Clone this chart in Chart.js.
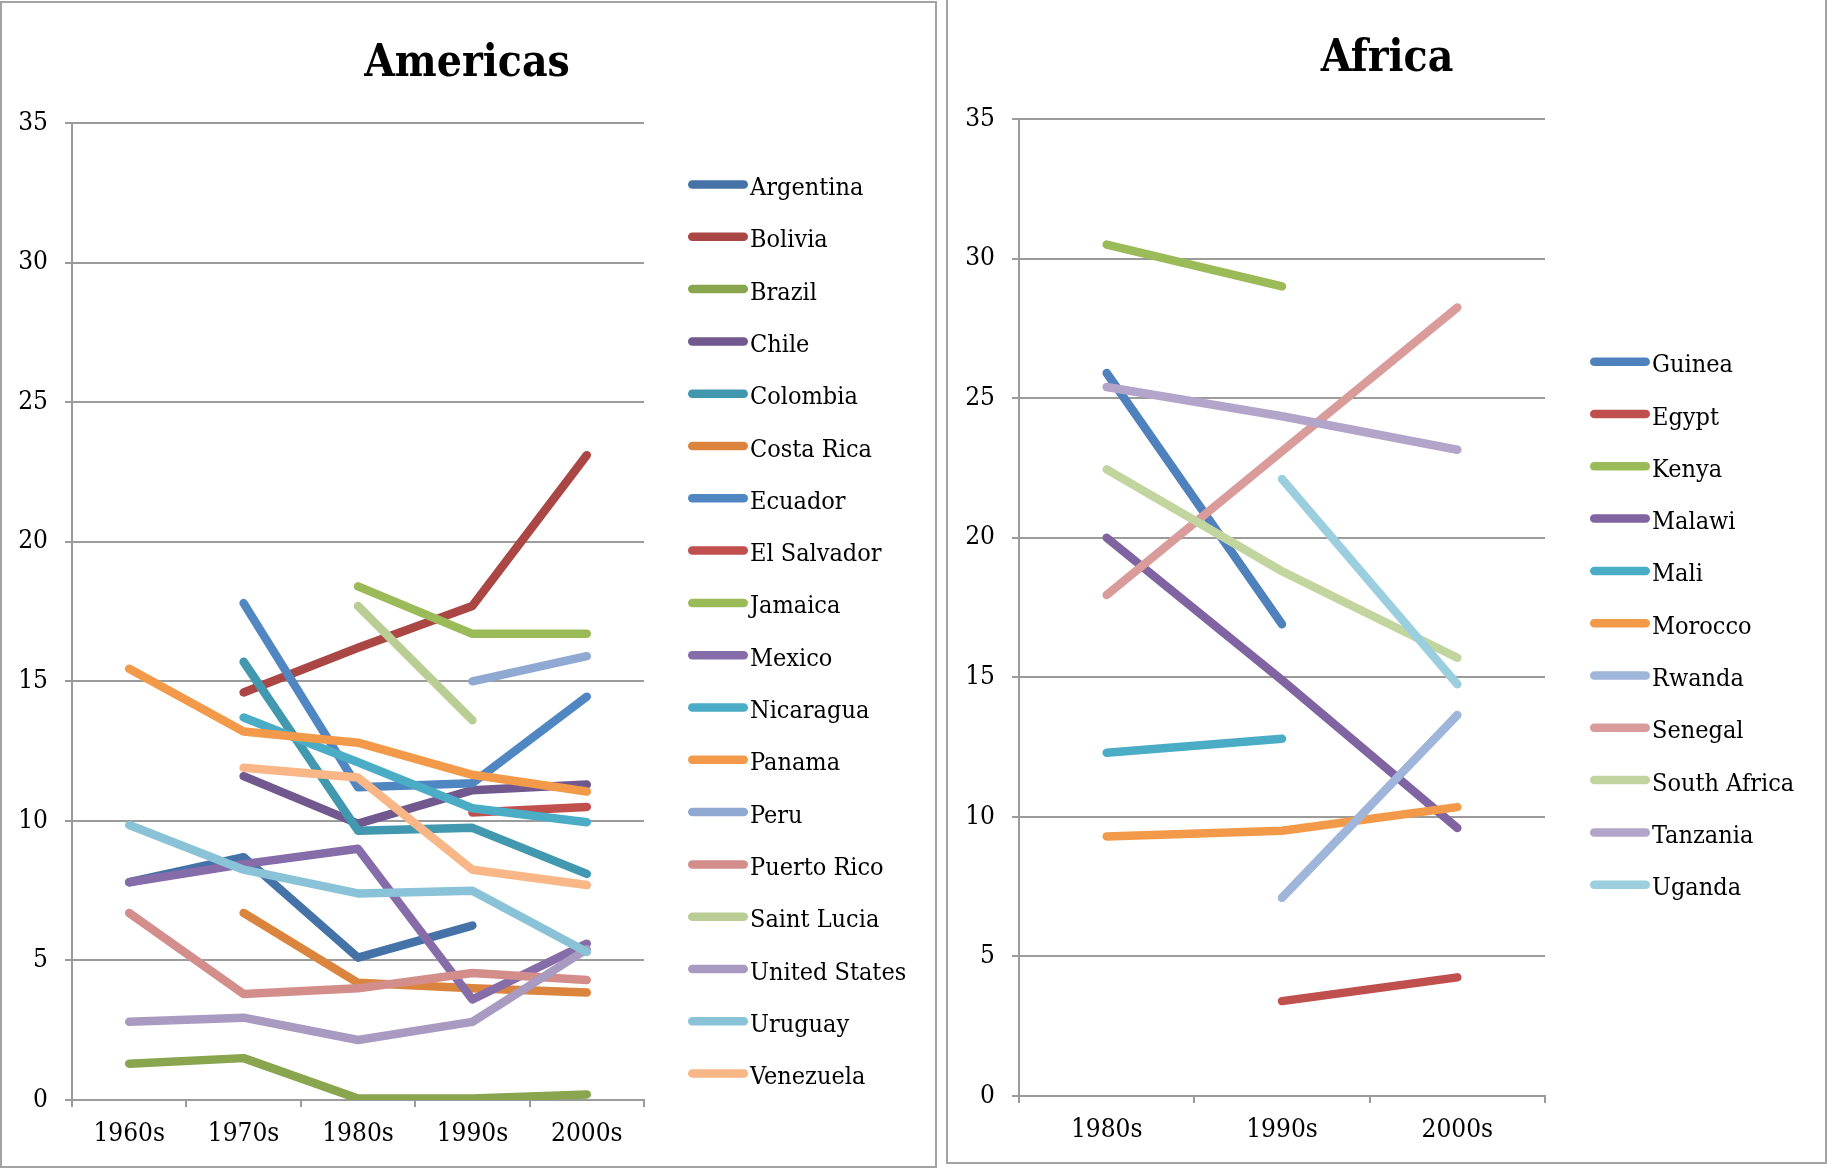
<!DOCTYPE html>
<html>
<head>
<meta charset="utf-8">
<title>Americas and Africa by decade</title>
<script src="https://cdn.jsdelivr.net/npm/chart.js@4.4.0/dist/chart.umd.min.js"></script>
<style>
  html, body { margin: 0; padding: 0; background: #fff; }
  body { width: 1827px; height: 1169px; position: relative; overflow: hidden; }
  .frame { position: absolute; box-sizing: border-box; border: 2px solid #a3a3a3; }
  #frameAm { left: 0; top: 1px; width: 937px; height: 1167px; }
  #frameAf { left: 946px; top: -10px; width: 881px; height: 1174px; }
  canvas { position: absolute; top: 0; }
  #americas { left: 0; }
  #africa { left: 946px; }
</style>
</head>
<body>
<div class="frame" id="frameAm"></div>
<div class="frame" id="frameAf"></div>
<canvas id="americas" width="937" height="1169"></canvas>
<canvas id="africa" width="881" height="1169"></canvas>
<script>
// ---- Americas ----
const americasDecades = ['1960s', '1970s', '1980s', '1990s', '2000s'];
const argentina    = [7.8, 8.7, 5.1, 6.25, null];
const bolivia      = [null, 14.6, 16.2, 17.7, 23.1];
const brazil       = [1.3, 1.5, 0.05, 0.05, 0.2];
const chile        = [null, 11.6, 9.9, 11.1, 11.3];
const colombia     = [null, 15.7, 9.65, 9.75, 8.1];
const costaRica    = [null, 6.7, 4.2, 4.0, 3.85];
const ecuador      = [null, 17.8, 11.2, 11.35, 14.45];
const elSalvador   = [null, null, null, 10.3, 10.5];
const jamaica      = [null, null, 18.4, 16.7, 16.7];
const mexico       = [7.8, 8.45, 9.0, 3.6, 5.6];
const nicaragua    = [null, 13.7, 12.1, 10.45, 9.95];
const panama       = [15.45, 13.2, 12.8, 11.65, 11.05];
const peru         = [null, null, null, 15.0, 15.9];
const puertoRico   = [6.7, 3.8, 4.0, 4.55, 4.3];
const saintLucia   = [null, null, 17.7, 13.6, null];
const unitedStates = [2.8, 2.95, 2.15, 2.8, 5.4];
const uruguay      = [9.85, 8.25, 7.4, 7.5, 5.3];
const venezuela    = [null, 11.9, 11.55, 8.25, 7.7];

const americasCountries = ['Argentina', 'Bolivia', 'Brazil', 'Chile', 'Colombia', 'Costa Rica',
  'Ecuador', 'El Salvador', 'Jamaica', 'Mexico', 'Nicaragua', 'Panama', 'Peru', 'Puerto Rico',
  'Saint Lucia', 'United States', 'Uruguay', 'Venezuela'];
const americasValues = [argentina, bolivia, brazil, chile, colombia, costaRica, ecuador, elSalvador,
  jamaica, mexico, nicaragua, panama, peru, puertoRico, saintLucia, unitedStates, uruguay, venezuela];
const americasColors = ['#4572A7', '#AA4643', '#89A54E', '#71588F', '#4198AF', '#DB843D',
  '#5087C2', '#C0504D', '#9BBB59', '#866CA8', '#4BACC6', '#F29A4A',
  '#8FA9D2', '#D38E8C', '#BACD94', '#A99AC2', '#8AC3D7', '#F9B687'];

// ---- Africa ----
const africaDecades = ['1980s', '1990s', '2000s'];
const guinea      = [25.9, 16.9, null];
const egypt       = [null, 3.4, 4.25];
const kenya       = [30.5, 29.0, null];
const malawi      = [20.0, 14.9, 9.6];
const mali        = [12.3, 12.8, null];
const morocco     = [9.3, 9.5, 10.35];
const rwanda      = [null, 7.1, 13.65];
const senegal     = [17.95, 23.1, 28.25];
const southAfrica = [22.45, 18.8, 15.7];
const tanzania    = [25.4, 24.35, 23.15];
const uganda      = [null, 22.1, 14.75];

const africaCountries = ['Guinea', 'Egypt', 'Kenya', 'Malawi', 'Mali', 'Morocco', 'Rwanda',
  'Senegal', 'South Africa', 'Tanzania', 'Uganda'];
const africaValues = [guinea, egypt, kenya, malawi, mali, morocco, rwanda, senegal, southAfrica,
  tanzania, uganda];
const africaColors = ['#4F81BD', '#C0504D', '#9BBB59', '#8064A2', '#4BACC6', '#F29A4A',
  '#A0B5DA', '#D99C9A', '#C2D59F', '#B3A5C9', '#9BCFDF'];

const yTicksMax = 35;
const yTickStep = 5;

// ---- drawing ----
const FONT = '"DejaVu Serif Condensed", "DejaVu Serif", serif';
const GRID = '#9b9b9b';
const LINE_WIDTH = 8.5;

// Title and legend drawn on the chart canvas
const decorPlugin = {
  id: 'decor',
  afterDraw(chart, args, opts) {
    const ctx = chart.ctx;
    ctx.save();
    ctx.fillStyle = '#000';
    ctx.textBaseline = 'alphabetic';
    ctx.textAlign = 'center';
    ctx.font = 'bold 44px ' + FONT;
    ctx.fillText(opts.title, opts.titleX, opts.titleY);
    ctx.textAlign = 'left';
    ctx.font = '25px ' + FONT;
    chart.data.datasets.forEach((ds, i) => {
      const y = opts.legendY + i * opts.legendGap;
      ctx.strokeStyle = ds.borderColor;
      ctx.lineWidth = LINE_WIDTH;
      ctx.lineCap = 'round';
      ctx.beginPath();
      ctx.moveTo(opts.swatchX0 + LINE_WIDTH / 2, y);
      ctx.lineTo(opts.swatchX1 - LINE_WIDTH / 2, y);
      ctx.stroke();
      ctx.fillText(ds.label, opts.textX, y + 10.5);
    });
    ctx.restore();
  }
};

function buildChart(canvasId, cfg) {
  const canvas = document.getElementById(canvasId);
  const W = canvas.width, H = canvas.height;
  const area = cfg.area;
  const xAxisHeight = 50;
  const tickFont = { family: FONT, size: 26 };

  const datasets = cfg.names.map((name, i) => ({
    label: name,
    data: cfg.values[i],
    borderColor: cfg.colors[i],
    backgroundColor: cfg.colors[i],
    borderWidth: LINE_WIDTH,
    borderCapStyle: 'round',
    borderJoinStyle: 'round',
    pointRadius: 0,
    pointHoverRadius: 0,
    spanGaps: false,
    tension: 0,
    order: -i
  }));

  const chart = new Chart(canvas, {
    type: 'line',
    data: { labels: cfg.labels, datasets },
    options: {
      responsive: false,
      animation: false,
      devicePixelRatio: 1,
      events: [],
      layout: {
        padding: {
          left: area.left - 72,
          top: area.top,
          right: W - area.right,
          bottom: H - area.bottom - xAxisHeight
        }
      },
      plugins: {
        legend: { display: false },
        title: { display: false },
        tooltip: { enabled: false },
        decor: cfg.decor
      },
      scales: {
        x: {
          type: 'category',
          offset: true,
          grid: { offset: true, drawOnChartArea: false, drawTicks: true, tickLength: 7, color: GRID, lineWidth: 2 },
          border: { display: true, color: GRID, width: 2 },
          ticks: { font: tickFont, color: '#000', padding: 12, maxRotation: 0, autoSkip: false },
          afterFit(scale) { scale.height = xAxisHeight; }
        },
        y: {
          min: 0,
          max: yTicksMax,
          ticks: { stepSize: yTickStep, font: tickFont, color: '#000', padding: 17 },
          grid: { color: GRID, lineWidth: 2, tickLength: 7, drawTicks: true },
          border: { display: true, color: GRID, width: 2 },
          afterFit(scale) { scale.width = 72; }
        }
      }
    },
    plugins: [decorPlugin]
  });

  // settle the plot rectangle on the intended edges
  for (let k = 0; k < 4; k++) {
    const ca = chart.chartArea;
    const p = chart.options.layout.padding;
    const dl = area.left - ca.left, dt = area.top - ca.top;
    const dr = ca.right - area.right, db = ca.bottom - area.bottom;
    if (Math.abs(dl) + Math.abs(dt) + Math.abs(dr) + Math.abs(db) < 0.05) break;
    chart.options.layout.padding = {
      left: p.left + dl, top: p.top + dt, right: p.right + dr, bottom: p.bottom + db
    };
    chart.update();
  }
  return chart;
}

buildChart('americas', {
  labels: americasDecades,
  names: americasCountries,
  values: americasValues,
  colors: americasColors,
  area: { left: 72, top: 123, right: 644, bottom: 1100 },
  decor: {
    title: 'Americas', titleX: 467, titleY: 76,
    swatchX0: 688, swatchX1: 748, textX: 750,
    legendY: 184.5, legendGap: 52.3
  }
});

buildChart('africa', {
  labels: africaDecades,
  names: africaCountries,
  values: africaValues,
  colors: africaColors,
  area: { left: 73, top: 119, right: 599, bottom: 1096 },
  decor: {
    title: 'Africa', titleX: 441, titleY: 70.5,
    swatchX0: 644, swatchX1: 704, textX: 706,
    legendY: 361.7, legendGap: 52.3
  }
});
</script>
</body>
</html>
